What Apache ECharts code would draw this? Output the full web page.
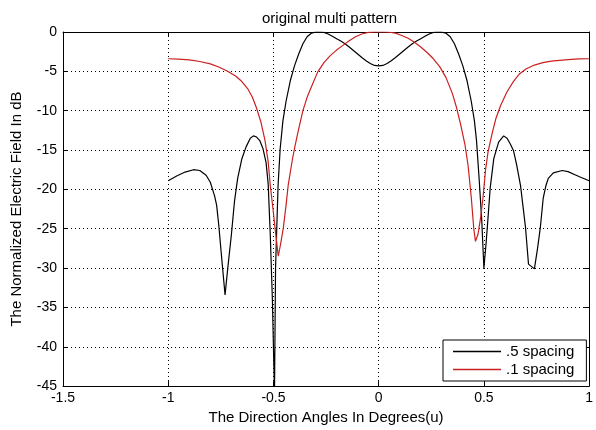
<!DOCTYPE html>
<html>
<head>
<meta charset="utf-8">
<script src="https://cdn.jsdelivr.net/npm/echarts@6/dist/echarts.min.js"></script>
<style>
  html, body { margin: 0; padding: 0; background: #fff; }
  #chart { width: 596px; height: 430px; }
</style>
</head>
<body>
<div id="chart"></div>
<script>
// .5 spacing (black)
var uHalf = [-1.00, -0.96, -0.92, -0.88, -0.85, -0.82, -0.80, -0.78, -0.77, -0.76, -0.745, -0.73, -0.715, -0.70, -0.685,
  -0.67, -0.65, -0.63, -0.61, -0.595, -0.58, -0.565, -0.55, -0.535, -0.525, -0.515, -0.505, -0.495, -0.49, -0.478,
  -0.468, -0.455, -0.44, -0.42, -0.40, -0.38, -0.36, -0.34, -0.32, -0.30, -0.28, -0.26, -0.24, -0.22, -0.20,
  -0.18, -0.16, -0.14, -0.12, -0.10, -0.08, -0.06, -0.04, -0.02, 0,
  0.02, 0.04, 0.06, 0.08, 0.10, 0.12, 0.14, 0.16, 0.18, 0.20, 0.22, 0.24, 0.26, 0.28, 0.30, 0.32, 0.34, 0.36,
  0.38, 0.40, 0.42, 0.44, 0.455, 0.465, 0.477, 0.49, 0.50, 0.51, 0.52, 0.53, 0.547, 0.57, 0.594, 0.61, 0.625,
  0.641, 0.655, 0.674, 0.698, 0.712, 0.74, 0.755, 0.768, 0.782, 0.795, 0.806, 0.83, 0.872, 0.90, 0.93, 0.96, 1.00];
var dbHalf = [-18.9, -18.3, -17.8, -17.5, -17.6, -18.2, -19.1, -20.8, -22.0, -24.5, -29.0, -33.4, -29.5, -25.8, -21.5,
  -18.6, -16.1, -14.6, -13.5, -13.2, -13.35, -13.8, -14.8, -16.6, -19.3, -25.8, -34, -46, -30, -19.5,
  -14.8, -11.3, -8.8, -6.2, -4.3, -2.8, -1.5, -0.6, -0.15, -0.02, 0, -0.05, -0.25, -0.55, -0.85,
  -1.15, -1.5, -1.9, -2.35, -2.8, -3.25, -3.65, -4.0, -4.25, -4.3,
  -4.25, -4.0, -3.65, -3.25, -2.8, -2.35, -1.9, -1.5, -1.15, -0.85, -0.55, -0.25, -0.05, 0, -0.02, -0.15, -0.6, -1.5,
  -2.8, -4.3, -6.2, -8.8, -11.3, -13.8, -18.5, -24, -30, -27, -23.5, -19.8, -16.1, -14.0, -13.2, -13.5, -14.2,
  -15.1, -16.8, -19.5, -24.9, -29.5, -30.1, -27.5, -24.9, -21.1, -19.5, -18.6, -17.9, -17.6, -17.75, -18.1, -18.45, -18.9];

// .1 spacing (red)
var uTenth = [-1.00, -0.95, -0.90, -0.85, -0.80, -0.76, -0.72, -0.68, -0.65, -0.62, -0.60, -0.58, -0.56, -0.54,
  -0.525, -0.515, -0.50, -0.49, -0.477, -0.465, -0.453, -0.44, -0.43, -0.41, -0.397, -0.38, -0.36, -0.34, -0.32,
  -0.29, -0.26, -0.23, -0.20, -0.17, -0.14, -0.11, -0.08, -0.05, -0.02, 0.02, 0.05, 0.08, 0.11, 0.14, 0.17,
  0.20, 0.23, 0.26, 0.29, 0.32, 0.35, 0.37, 0.39, 0.41, 0.425, 0.44, 0.452, 0.46, 0.472, 0.485, 0.496, 0.508,
  0.52, 0.54, 0.557, 0.58, 0.61, 0.64, 0.67, 0.70, 0.74, 0.78, 0.82, 0.86, 0.90, 0.95, 1.00];
var dbTenth = [-3.4, -3.45, -3.55, -3.75, -4.05, -4.45, -4.95, -5.6, -6.3, -7.3, -8.3, -9.7, -11.4, -13.8,
  -16.5, -19.5, -23.0, -25.5, -28.5, -26.8, -24.9, -22.0, -19.5, -16.2, -14.4, -12.3, -10.0, -8.3, -7.0,
  -5.1, -3.9, -3.0, -2.3, -1.7, -1.1, -0.6, -0.25, -0.05, 0, 0, -0.03, -0.15, -0.45, -0.8, -1.3,
  -1.9, -2.6, -3.4, -4.4, -5.8, -7.8, -9.6, -11.8, -14.3, -17.0, -21.0, -25.0, -26.6, -25.7, -23.5, -21.0, -17.5,
  -15.2, -12.8, -11.0, -9.3, -7.6, -6.3, -5.3, -4.7, -4.2, -3.9, -3.7, -3.6, -3.5, -3.42, -3.4];

var xTicks = { min: -1.5, max: 1, interval: 0.5 };
var yTicks = { min: -45, max: 0, interval: 5 };

function pairs(xs, ys) {
  return xs.map(function (x, i) { return [x, ys[i]]; });
}

var font = 'Liberation Sans, Arial, Helvetica, sans-serif';
var dotted = { color: '#000', width: 1, type: [1, 3] };
var black = '#000';
var red = '#cc2020';

var chart = echarts.init(document.getElementById('chart'), null, { renderer: 'canvas' });

var option = {
  animation: false,
  backgroundColor: '#fff',
  title: {
    text: 'original multi pattern',
    left: 257,
    top: 6,
    textStyle: { fontFamily: font, fontSize: 15, fontWeight: 'normal', color: '#000' }
  },
  legend: {
    orient: 'vertical',
    left: 443,
    top: 340,
    padding: [4, 12, 4, 10],
    itemGap: 3,
    itemWidth: 48,
    itemHeight: 1.5,
    icon: 'rect',
    backgroundColor: '#fff',
    borderColor: '#000',
    borderWidth: 1,
    borderRadius: 0,
    textStyle: { fontFamily: font, fontSize: 15, color: '#000' },
    data: ['.5 spacing', '.1 spacing']
  },
  grid: { left: 63, right: 1, top: 32, bottom: 40 },
  xAxis: [{
    type: 'value',
    min: xTicks.min, max: xTicks.max, interval: xTicks.interval,
    name: 'The Direction Angles In Degrees(u)',
    nameLocation: 'middle',
    nameGap: 20,
    nameTextStyle: { fontFamily: font, fontSize: 15, color: '#000' },
    axisLine: { show: true, onZero: false, lineStyle: { color: '#000' } },
    axisTick: { inside: true, length: 5, lineStyle: { color: '#000' } },
    axisLabel: { margin: 5, fontFamily: font, fontSize: 14, color: '#000' },
    splitLine: { show: true, lineStyle: dotted }
  }, {
    type: 'value', position: 'top',
    min: xTicks.min, max: xTicks.max, interval: xTicks.interval,
    axisLine: { show: true, onZero: false, lineStyle: { color: '#000' } },
    axisTick: { inside: true, length: 5, lineStyle: { color: '#000' } },
    axisLabel: { show: false },
    splitLine: { show: false }
  }],
  yAxis: [{
    type: 'value',
    min: yTicks.min, max: yTicks.max, interval: yTicks.interval,
    name: 'The Normalized Electric Field In dB',
    nameLocation: 'middle',
    nameGap: 39,
    nameTextStyle: { fontFamily: font, fontSize: 15, color: '#000' },
    axisLine: { show: true, onZero: false, lineStyle: { color: '#000' } },
    axisTick: { inside: true, length: 5, lineStyle: { color: '#000' } },
    axisLabel: { margin: 6, fontFamily: font, fontSize: 14, color: '#000' },
    splitLine: { show: true, lineStyle: dotted }
  }, {
    type: 'value', position: 'right',
    min: yTicks.min, max: yTicks.max, interval: yTicks.interval,
    axisLine: { show: true, onZero: false, lineStyle: { color: '#000' } },
    axisTick: { inside: true, length: 5, lineStyle: { color: '#000' } },
    axisLabel: { show: false },
    splitLine: { show: false }
  }],
  series: [{
    name: '.5 spacing',
    type: 'line',
    symbol: 'none',
    clip: true,
    lineStyle: { color: black, width: 1.2 },
    itemStyle: { color: black },
    data: pairs(uHalf, dbHalf)
  }, {
    name: '.1 spacing',
    type: 'line',
    symbol: 'none',
    clip: true,
    lineStyle: { color: red, width: 1.2 },
    itemStyle: { color: red },
    data: pairs(uTenth, dbTenth)
  }]
};

chart.setOption(option);
window.addEventListener('resize', chart.resize);
</script>
</body>
</html>
